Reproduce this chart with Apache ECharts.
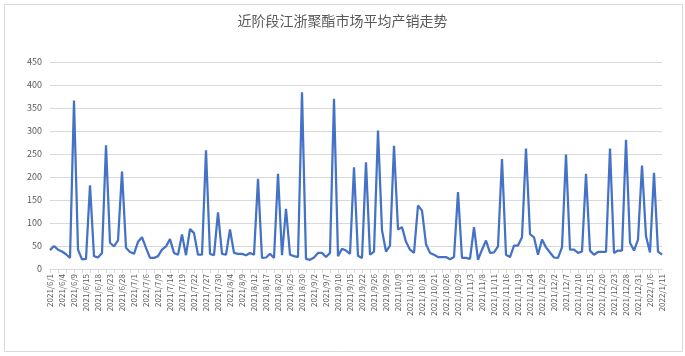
<!DOCTYPE html>
<html>
<head>
<meta charset="utf-8">
<script src="https://cdn.jsdelivr.net/npm/echarts@6/dist/echarts.min.js"></script>
<style>html,body{margin:0;padding:0;background:#fff;}#c{width:685px;height:356px;}</style>
</head>
<body>
<div id="c"></div>
<script>
const titleText = '近阶段江浙聚酯市场平均产销走势';
const categories = [
'2021/6/1','2021/6/2','2021/6/3','2021/6/4','2021/6/7','2021/6/8','2021/6/9','2021/6/10','2021/6/11','2021/6/15','2021/6/16','2021/6/17','2021/6/18','2021/6/21','2021/6/22','2021/6/23','2021/6/24','2021/6/25','2021/6/28','2021/6/29','2021/6/30',
'2021/7/1','2021/7/2','2021/7/5','2021/7/6','2021/7/7','2021/7/8','2021/7/9','2021/7/12','2021/7/13','2021/7/14','2021/7/15','2021/7/16','2021/7/19','2021/7/20','2021/7/21','2021/7/22','2021/7/23','2021/7/26','2021/7/27','2021/7/28','2021/7/29','2021/7/30',
'2021/8/2','2021/8/3','2021/8/4','2021/8/5','2021/8/6','2021/8/9','2021/8/10','2021/8/11','2021/8/12','2021/8/13','2021/8/16','2021/8/17','2021/8/18','2021/8/19','2021/8/20','2021/8/23','2021/8/24','2021/8/25','2021/8/26','2021/8/27','2021/8/30','2021/8/31',
'2021/9/1','2021/9/2','2021/9/3','2021/9/6','2021/9/7','2021/9/8','2021/9/9','2021/9/10','2021/9/13','2021/9/14','2021/9/15','2021/9/16','2021/9/17','2021/9/22','2021/9/23','2021/9/24','2021/9/26','2021/9/27','2021/9/28','2021/9/29','2021/9/30',
'2021/10/8','2021/10/9','2021/10/11','2021/10/12','2021/10/13','2021/10/14','2021/10/15','2021/10/18','2021/10/19','2021/10/20','2021/10/21','2021/10/22','2021/10/25','2021/10/26','2021/10/27','2021/10/28','2021/10/29',
'2021/11/1','2021/11/2','2021/11/3','2021/11/4','2021/11/5','2021/11/8','2021/11/9','2021/11/10','2021/11/11','2021/11/12','2021/11/15','2021/11/16','2021/11/17','2021/11/18','2021/11/19','2021/11/22','2021/11/23','2021/11/24','2021/11/25','2021/11/26','2021/11/29','2021/11/30',
'2021/12/1','2021/12/2','2021/12/3','2021/12/6','2021/12/7','2021/12/8','2021/12/9','2021/12/10','2021/12/13','2021/12/14','2021/12/15','2021/12/16','2021/12/17','2021/12/20','2021/12/21','2021/12/22','2021/12/23','2021/12/24','2021/12/27','2021/12/28','2021/12/29','2021/12/30','2021/12/31',
'2022/1/4','2022/1/5','2022/1/6','2022/1/7','2022/1/10','2022/1/11'
];
const values = [
41,50,42,38,32,24,366,42,21,22,182,28,25,35,269,57,49,62,212,46,37,33,59,69,46,24,24,28,42,49,
65,35,31,75,30,87,78,31,31,258,33,30,123,33,31,86,35,33,33,30,35,31,196,24,25,33,24,207,30,131,
31,28,26,384,22,20,25,35,35,26,35,370,28,44,40,33,221,29,24,232,31,38,301,84,38,51,268,86,91,59,
42,35,138,127,54,35,31,26,26,26,21,26,167,24,24,22,91,20,42,62,35,36,49,239,31,26,51,51,69,262,
76,69,31,64,47,36,25,24,47,249,42,42,35,38,207,40,31,37,37,37,262,35,40,40,281,57,40,64,225,71,36,209,38,31
];
const yMin = 0, yMax = 450, yStep = 50;

const chart = echarts.init(document.getElementById('c'), null, {renderer: 'canvas'});
chart.setOption({
  backgroundColor: '#fff',
  animation: false,
  title: {
    text: titleText,
    left: 'center',
    top: 9,
    textStyle: {fontFamily: 'Noto Sans CJK SC', fontSize: 14, fontWeight: 'normal', color: '#595959'}
  },
  graphic: [{
    type: 'rect', left: 2, top: 2, z: 100, silent: true,
    shape: {x: 0, y: 0, width: 678, height: 347},
    style: {fill: 'none', stroke: '#d9d9d9', lineWidth: 1}
  }],
  grid: {left: 50, right: 23, top: 62, bottom: 87, containLabel: false},
  xAxis: {
    type: 'category',
    data: categories,
    boundaryGap: false,
    axisLine: {lineStyle: {color: '#d9d9d9'}},
    axisTick: {show: true, interval: 1, length: 4, lineStyle: {color: '#d9d9d9'}},
    axisLabel: {interval: 2, rotate: 90, fontSize: 8, color: '#595959', margin: 5, fontFamily: 'Noto Sans CJK SC'},
    splitLine: {show: false}
  },
  yAxis: {
    type: 'value',
    min: yMin, max: yMax, interval: yStep,
    axisLine: {show: false},
    axisTick: {show: false},
    axisLabel: {fontSize: 9, color: '#595959', margin: 8, fontFamily: 'Noto Sans CJK SC'},
    splitLine: {lineStyle: {color: '#d9d9d9', width: 1}}
  },
  series: [{
    type: 'line',
    data: values,
    symbol: 'none',
    lineStyle: {color: '#4472C4', width: 2.25},
    itemStyle: {color: '#4472C4'}
  }]
});
</script>
</body>
</html>
